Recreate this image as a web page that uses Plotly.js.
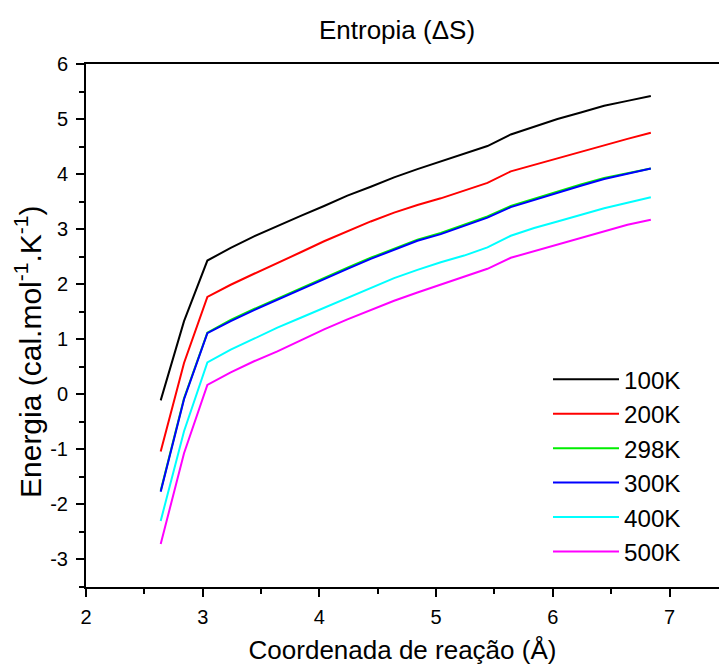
<!DOCTYPE html>
<html>
<head>
<meta charset="utf-8">
<script src="https://cdn.plot.ly/plotly-3.0.1.min.js"></script>
<style>html,body{margin:0;padding:0;background:#fff;}#chart{width:719px;height:671px;}</style>
</head>
<body>
<div id="chart"></div>
<script>
var coord = [2.64, 2.84, 3.04, 3.24, 3.44, 3.64, 3.84, 4.04, 4.24, 4.44, 4.64, 4.84, 5.04, 5.24, 5.44, 5.64, 5.84, 6.04, 6.24, 6.44, 6.64, 6.84];
var s100K = [-0.11, 1.33, 2.43, 2.66, 2.87, 3.06, 3.24, 3.42, 3.61, 3.77, 3.94, 4.09, 4.23, 4.37, 4.51, 4.72, 4.86, 5.00, 5.12, 5.24, 5.33, 5.42];
var s200K = [-1.04, 0.57, 1.77, 1.99, 2.19, 2.38, 2.58, 2.78, 2.96, 3.14, 3.30, 3.44, 3.56, 3.70, 3.84, 4.05, 4.17, 4.29, 4.41, 4.53, 4.64, 4.75];
var s298K = [-1.75, -0.07, 1.12, 1.35, 1.55, 1.74, 1.92, 2.11, 2.30, 2.48, 2.65, 2.81, 2.93, 3.08, 3.23, 3.42, 3.55, 3.69, 3.81, 3.93, 4.01, 4.10];
var s300K = [-1.77, -0.09, 1.11, 1.33, 1.53, 1.72, 1.90, 2.09, 2.28, 2.46, 2.63, 2.79, 2.91, 3.06, 3.21, 3.40, 3.53, 3.67, 3.79, 3.91, 4.00, 4.10];
var s400K = [-2.30, -0.67, 0.58, 0.81, 1.01, 1.21, 1.39, 1.57, 1.75, 1.93, 2.11, 2.26, 2.40, 2.52, 2.67, 2.88, 3.02, 3.14, 3.26, 3.38, 3.48, 3.58];
var s500K = [-2.72, -1.07, 0.17, 0.40, 0.60, 0.78, 0.98, 1.18, 1.36, 1.53, 1.70, 1.85, 1.99, 2.13, 2.28, 2.48, 2.60, 2.72, 2.84, 2.96, 3.08, 3.17];
var seriesNames = ["100K", "200K", "298K", "300K", "400K", "500K"];
var seriesValues = [s100K, s200K, s298K, s300K, s400K, s500K];
var seriesColors = ["#000000", "#ff0000", "#00ee00", "#0000ff", "#00ffff", "#ff00ff"];
var xTickVals = [2, 3, 4, 5, 6, 7];
var xTickText = ["2", "3", "4", "5", "6", "7"];
var yTickVals = [-3, -2, -1, 0, 1, 2, 3, 4, 5, 6];
var yTickText = ["-3", "-2", "-1", "0", "1", "2", "3", "4", "5", "6"];

var traces = seriesNames.map(function (n, i) {
  return {
    x: coord, y: seriesValues[i], name: n, type: "scatter", mode: "lines",
    line: {color: seriesColors[i], width: 2}
  };
});

var font = "Arial, 'Liberation Sans', sans-serif";
var layout = {
  width: 719, height: 671,
  margin: {l: 86, r: 0, t: 64, b: 84},
  paper_bgcolor: "#fff", plot_bgcolor: "#fff",
  font: {family: font, color: "#000"},
  showlegend: true,
  title: {text: "Entropia (\u0394S)", font: {size: 26, family: font, color: "#000"},
          x: 397 / 719, xanchor: "center", xref: "container", y: 1 - 30 / 671, yanchor: "middle", yref: "container"},
  xaxis: {
    range: [2, 2 + 633 / 116.7], tickvals: xTickVals, ticktext: xTickText,
    showgrid: false, zeroline: false,
    showline: true, linecolor: "#000", linewidth: 2, mirror: true,
    ticks: "outside", ticklen: 8, tickwidth: 2, tickcolor: "#000", ticklabelstandoff: 3,
    minor: {dtick: 0.5, tick0: 0, ticks: "outside", ticklen: 5, tickwidth: 2, tickcolor: "#000"},
    tickfont: {size: 20, family: font, color: "#000"},
    title: {text: "Coordenada de rea\u00e7\u00e3o (\u00c5)", font: {size: 26, family: font, color: "#000"}, standoff: 14}
  },
  yaxis: {
    range: [-3.5, 6], tickvals: yTickVals, ticktext: yTickText,
    showgrid: false, zeroline: false,
    showline: true, linecolor: "#000", linewidth: 2, mirror: false,
    ticks: "outside", ticklen: 8, tickwidth: 2, tickcolor: "#000", ticklabelstandoff: 4,
    minor: {dtick: 0.5, tick0: 0, ticks: "outside", ticklen: 5, tickwidth: 2, tickcolor: "#000"},
    tickfont: {size: 20, family: font, color: "#000"}
  },
  annotations: [{
    text: "Energia (cal.mol<sup>-1</sup>.K<sup>-1</sup>)",
    xref: "paper", yref: "paper", x: (28 - 86) / 633, y: (587 - 352) / 523,
    xanchor: "center", yanchor: "middle", textangle: -90, showarrow: false,
    font: {size: 30, family: font, color: "#000"}
  }],
  legend: {
    x: (548 - 86) / 633, y: (587 - 357) / 523, xanchor: "left", yanchor: "top",
    bgcolor: "rgba(0,0,0,0)", borderwidth: 0, itemwidth: 66,
    font: {size: 24.2, family: font, color: "#000"}, tracegroupgap: 0
  }
};

Plotly.newPlot("chart", traces, layout, {displayModeBar: false, staticPlot: true});
</script>
</body>
</html>
